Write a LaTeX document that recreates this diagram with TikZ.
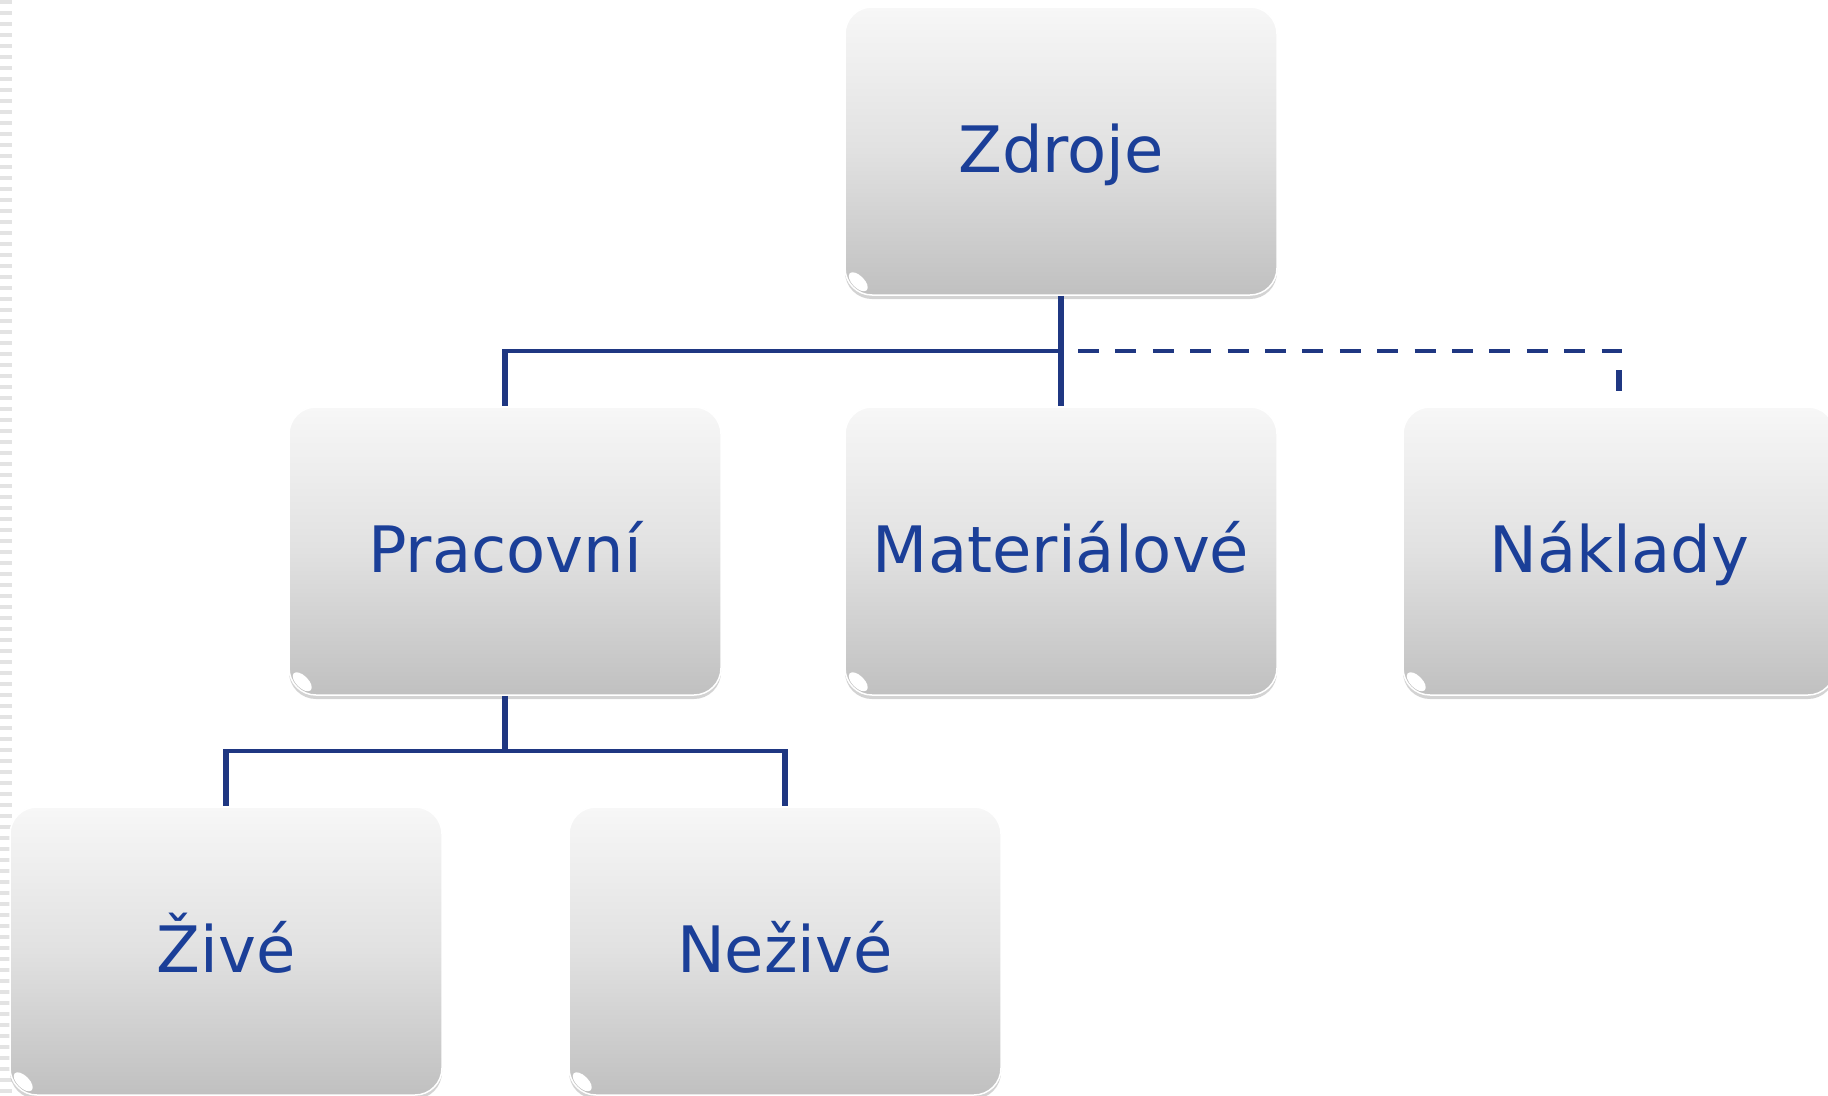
\documentclass[tikz,border=0pt]{standalone}
\usepackage{fontspec}
\setmainfont{DejaVu Sans}
\usetikzlibrary{calc,shadows,shapes.geometric}
\definecolor{txtblue}{RGB}{27,63,152}
\definecolor{lineblue}{RGB}{31,55,130}
\definecolor{boxtop}{RGB}{247,247,247}
\definecolor{boxbot}{RGB}{192,192,192}
\begin{document}
\begin{tikzpicture}[x=1pt,y=-1pt,
  box/.style={rectangle, rounded corners=27pt, minimum width=432pt, minimum height=288pt,
    inner sep=0pt, text height=56pt, text depth=14pt,
    top color=boxtop, bottom color=boxbot, middle color=boxtop!60!boxbot,
    draw=white, line width=1.5pt, text=txtblue,
    font=\fontsize{64}{70}\selectfont,
    drop shadow={shadow xshift=0pt, shadow yshift=-4pt, opacity=0.35, fill=gray}},
  vconn/.style={draw=lineblue, line width=6pt},
  hconn/.style={draw=lineblue, line width=4.3pt},
  hdash/.style={hconn, dash pattern=on 21pt off 16.4pt},
  gloss/.style={fill=white, rotate=-45, ellipse, inner sep=0pt,
    minimum width=24pt, minimum height=12pt}
]
\useasboundingbox (0,0) rectangle (1828,1095);
% left edge stripe
\draw[line width=12pt, gray!22, dash pattern=on 4pt off 7pt] (6,0) -- (6,1095);

\node[box] (Z) at (1061,151) {Zdroje};
\node[box] (P) at (505,551) {Pracovní};
\node[box] (M) at (1061,551) {Materiálové};
\node[box] (N) at (1619,551) {Náklady};
\node[box] (L) at (226,951) {Živé};
\node[box] (R) at (785,951) {Neživé};

\foreach \b in {Z,P,M,N,L,R}{
  \node[gloss] at ($(\b.south west)+(14,-14)$) {};
}

% top level connectors
\coordinate (j1) at ($(Z.south)+(0,55)$);
\coordinate (pj) at (P.north |- j1);
\coordinate (d1) at ($(j1)+(17,0)$);
\coordinate (nend) at ($(N.north)+(0,-15)$);
\coordinate (nc) at ($(nend |- j1)+(3,0)$);
\coordinate (nd) at ($(nend)+(0,-21)$);

\draw[vconn] (Z.south) -- (M.north);
\draw[hconn] ($(pj)+(-3,0)$) -- (j1);
\draw[vconn] (pj) -- (P.north);
\draw[hdash] (d1) -- (nc);
\draw[vconn] (nd) -- (nend);

% second level connectors
\coordinate (j2) at ($(P.south)+(0,55)$);
\coordinate (lj) at (L.north |- j2);
\coordinate (rj) at (R.north |- j2);
\draw[vconn] (P.south) -- (j2);
\draw[hconn] ($(lj)+(-3,0)$) -- ($(rj)+(3,0)$);
\draw[vconn] (lj) -- (L.north);
\draw[vconn] (rj) -- (R.north);
\end{tikzpicture}
\end{document}
